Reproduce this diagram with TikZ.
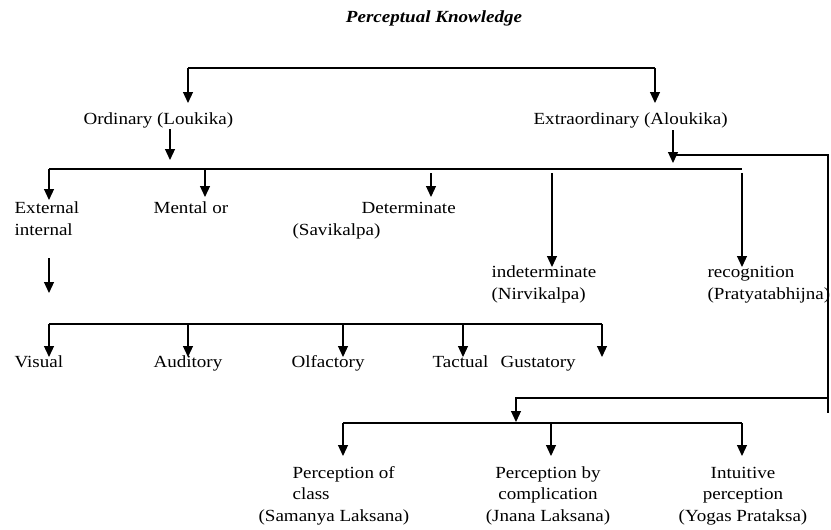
\documentclass[tikz,border=0pt]{standalone}
\usepackage{fontspec}
\setmainfont{Liberation Serif}[FakeStretch=1.12]
\usetikzlibrary{arrows.meta}

\tikzset{
  lbl/.style={inner sep=0pt, anchor=base west, align=left, font=\fontsize{17}{21.5}\selectfont},
  arr/.style={-{Triangle[length=11pt,width=10pt]}},
}

\begin{document}
\begin{tikzpicture}[x=1pt,y=-1pt,line width=1.2pt]
  \fill[white] (0,0) rectangle (831,530);
  \useasboundingbox (0,0) rectangle (831,530);

  % heading
  \node[lbl, anchor=base, font=\fontsize{17}{21.5}\selectfont\bfseries\itshape] (title) at (434,22) {Perceptual Knowledge};

  % first level
  \node[lbl] (ord) at (83,124) {Ordinary (Loukika)};
  \node[lbl] (extra) at (533,124) {Extraordinary (Aloukika)};

  % second level (base = last line)
  \node[lbl] (ext) at (14,235) {External\\internal};
  \node[lbl] (mental) at (153,213) {Mental or};
  \node[lbl] (det) at (292,235) {\hspace*{69pt}Determinate\\(Savikalpa)};
  \node[lbl] (indet) at (491,299) {indeterminate\\(Nirvikalpa)};
  \node[lbl] (recog) at (707,299) {recognition\\(Pratyatabhijna)};

  % senses
  \node[lbl] (visual) at (14,367) {Visual};
  \node[lbl] (audit) at (153,367) {Auditory};
  \node[lbl] (olf) at (291,367) {Olfactory};
  \node[lbl] (tact) at (432,367) {Tactual};
  \node[lbl] (gust) at (500,367) {Gustatory};

  % extraordinary kinds
  \node[lbl] (samanya) at (258,521) {\hspace*{34pt}Perception of\\\hspace*{34pt}class\\(Samanya Laksana)};
  \node[lbl, anchor=base, align=center] (jnana) at (548,521) {Perception by\\complication\\(Jnana Laksana)};
  \node[lbl, anchor=base, align=center] (yogas) at (743,521) {Intuitive\\perception\\(Yogas Prataksa)};

  % junction points
  \coordinate (t1) at (188,68);  \coordinate (t2) at (655,68);
  \coordinate (o1) at (170,129); \coordinate (e1) at (673,130);
  \coordinate (b1) at (49,169);  \coordinate (b2) at (742,169);
  \coordinate (m1) at (205,169);
  \coordinate (r1) at (828,155); \coordinate (r2) at (828,413);
  \coordinate (r3) at (828,398); \coordinate (r4) at (516,398);
  \coordinate (s0) at (49,258);
  \coordinate (s1) at (49,324);  \coordinate (s2) at (602,324);
  \coordinate (k1) at (343,423); \coordinate (k2) at (742,423);

  \draw (t1) -- (t2);
  \draw[arr] (t1) -- ++(0,35);
  \draw[arr] (t2) -- ++(0,35);

  \draw[arr] (o1) -- ++(0,31);
  \draw[arr] (e1) -- ++(0,33);
  \draw (b1) -- (b2);
  \draw[arr] (b1) -- ++(0,31);
  \draw[arr] (m1) -- ++(0,28);
  \draw[arr] (431,173) -- ++(0,24);
  \draw[arr] (552,173) -- ++(0,94);
  \draw[arr] (742,173) -- ++(0,94);

  % loop on the right
  \draw (e1 |- r1) -- (r1) -- (r2);
  \draw[arr] (r3) -- (r4) -- ++(0,24);

  \draw[arr] (s0) -- ++(0,35);
  \draw (s1) -- (s2);
  \foreach \xx in {49,188,343,463,602}
    \draw[arr] (\xx,324) -- ++(0,33);

  \draw (k1) -- (k2);
  \foreach \xx in {343,551,742}
    \draw[arr] (\xx,423) -- ++(0,33);
\end{tikzpicture}
\end{document}
